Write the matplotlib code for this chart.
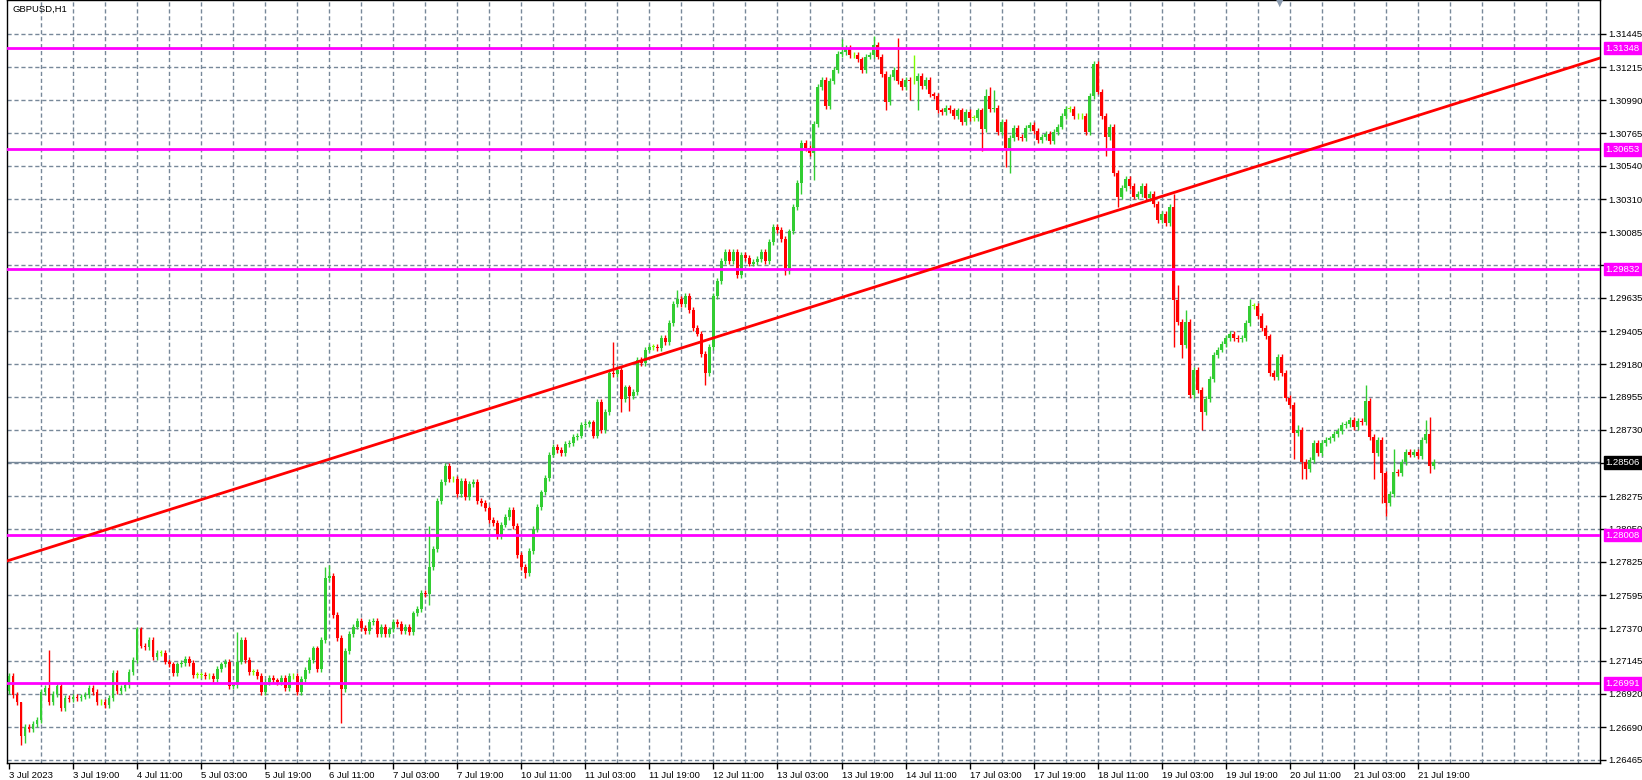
import matplotlib
matplotlib.use("Agg")
import matplotlib.pyplot as plt
import numpy as np

plt.rcParams['font.family'] = ['Liberation Sans', 'DejaVu Sans']

symbol = "GBPUSD,H1"
first_open = 1.2694
closes = [
1.2704,1.2691,1.2686,1.2663,1.2669,1.2668,1.2671,1.2674,1.2693,1.2696,1.2686,1.2692,1.2697,1.2682,1.2689,1.2688,1.2690,1.2689,1.2690,1.2691,1.2696,1.2693,1.2686,1.2686,
1.2684,1.2689,1.2706,1.2694,1.2696,1.2698,1.2707,1.2715,1.2736,1.2725,1.2724,1.2729,1.2717,1.2720,1.2720,1.2714,1.2712,1.2706,1.2712,1.2713,1.2716,1.2713,1.2705,1.2705,
1.2705,1.2704,1.2704,1.2702,1.2709,1.2712,1.2714,1.2697,1.2698,1.2714,1.2729,1.2715,1.2707,1.2707,1.2704,1.2693,1.2700,1.2703,1.2701,1.2700,1.2703,1.2696,1.2704,1.2704,
1.2693,1.2702,1.2708,1.2715,1.2723,1.2709,1.2729,1.2771,1.2773,1.2746,1.2730,1.2695,1.2721,1.2733,1.2738,1.2742,1.2737,1.2735,1.2741,1.2742,1.2733,1.2738,1.2733,1.2736,
1.2741,1.2740,1.2735,1.2738,1.2734,1.2747,1.2750,1.2761,1.2760,1.2779,1.2791,1.2824,1.2837,1.2848,1.2839,1.2839,1.2829,1.2838,1.2827,1.2836,1.2837,1.2824,1.2823,1.2819,
1.2811,1.2809,1.2800,1.2808,1.2813,1.2818,1.2807,1.2787,1.2779,1.2775,1.2790,1.2805,1.2820,1.2830,1.2840,1.2856,1.2861,1.2859,1.2857,1.2863,1.2864,1.2868,1.2869,1.2876,
1.2877,1.2878,1.2869,1.2892,1.2873,1.2885,1.2912,1.2911,1.2914,1.2894,1.2902,1.2896,1.2899,1.2921,1.2919,1.2928,1.2930,1.2930,1.2929,1.2936,1.2933,1.2946,1.2959,1.2963,
1.2959,1.2965,1.2955,1.2943,1.2939,1.2925,1.2912,1.2930,1.2965,1.2975,1.2989,1.2995,1.2989,1.2995,1.2979,1.2993,1.2991,1.2987,1.2988,1.2990,1.2995,1.2989,1.3002,1.3012,
1.3010,1.3004,1.2982,1.3009,1.3026,1.3042,1.3070,1.3066,1.3063,1.3083,1.3108,1.3113,1.3095,1.3112,1.3120,1.3131,1.3132,1.3135,1.3130,1.3130,1.3127,1.3120,1.3129,1.3130,
1.3137,1.3129,1.3117,1.3098,1.3115,1.3120,1.3112,1.3108,1.3113,1.3112,1.3112,1.3116,1.3109,1.3113,1.3103,1.3102,1.3092,1.3091,1.3094,1.3092,1.3088,1.3092,1.3084,1.3091,
1.3087,1.3087,1.3092,1.3079,1.3102,1.3093,1.3094,1.3077,1.3084,1.3066,1.3073,1.3080,1.3074,1.3073,1.3080,1.3082,1.3078,1.3072,1.3074,1.3076,1.3071,1.3077,1.3081,1.3088,
1.3093,1.3093,1.3088,1.3088,1.3088,1.3077,1.3102,1.3124,1.3105,1.3088,1.3074,1.3081,1.3049,1.3033,1.3039,1.3045,1.3040,1.3033,1.3035,1.3040,1.3032,1.3035,1.3028,1.3017,
1.3021,1.3015,1.3026,1.2962,1.2947,1.2931,1.2947,1.2897,1.2914,1.2900,1.2885,1.2894,1.2908,1.2924,1.2928,1.2932,1.2936,1.2939,1.2936,1.2935,1.2936,1.2946,1.2958,1.2958,
1.2951,1.2943,1.2937,1.2912,1.2909,1.2923,1.2912,1.2895,1.2890,1.2871,1.2873,1.2851,1.2846,1.2852,1.2864,1.2857,1.2864,1.2866,1.2867,1.2870,1.2872,1.2876,1.2877,1.2880,
1.2875,1.2879,1.2878,1.2893,1.2868,1.2857,1.2866,1.2843,1.2823,1.2829,1.2844,1.2843,1.2851,1.2858,1.2856,1.2858,1.2855,1.2866,1.2870,1.2848,1.2851]

high_over = {3:1.2666,10:1.2722,32:1.2738,57:1.2734,79:1.2779,80:1.2780,105:1.2807,109:1.2850,
             151:1.2933,167:1.2969,208:1.3141,216:1.3143,222:1.3142,226:1.3130,244:1.3107,245:1.3108,
             246:1.3106,271:1.3126,291:1.3035,292:1.2972,294:1.2955,310:1.2963,322:1.2876,339:1.2904,
             346:1.2860,354:1.2880,355:1.2882}
low_over = {3:1.2657,4:1.2658,83:1.2672,105:1.2753,129:1.2771,153:1.2885,155:1.2886,174:1.2904,
            194:1.2979,198:1.3035,201:1.3044,219:1.3092,225:1.3099,227:1.3092,243:1.3064,249:1.3053,
            250:1.3049,274:1.3061,277:1.3026,291:1.2930,293:1.2922,298:1.2873,321:1.2853,323:1.2839,
            324:1.2839,341:1.2839,343:1.2823,344:1.2814,355:1.2843}

hlines = [1.31348, 1.30653, 1.29832, 1.28008, 1.26991]
current = 1.28506
trend_x = [-0.5, 397.5]
trend_y = [1.2783, 1.3128]
price_ticks = [1.31445,1.31215,1.30990,1.30765,1.30540,1.30310,1.30085,1.29860,1.29635,1.29405,
               1.29180,1.28955,1.28730,1.28500,1.28275,1.28050,1.27825,1.27595,1.27370,1.27145,
               1.26920,1.26690,1.26465]
time_labels = ["3 Jul 2023","3 Jul 19:00","4 Jul 11:00","5 Jul 03:00","5 Jul 19:00","6 Jul 11:00",
               "7 Jul 03:00","7 Jul 19:00","10 Jul 11:00","11 Jul 03:00","11 Jul 19:00","12 Jul 11:00",
               "13 Jul 03:00","13 Jul 19:00","14 Jul 11:00","17 Jul 03:00","17 Jul 19:00","18 Jul 11:00",
               "19 Jul 03:00","19 Jul 19:00","20 Jul 11:00","21 Jul 03:00","21 Jul 19:00"]

W, H = 1642, 780
FS = 6.8
fig = plt.figure(figsize=(W/100, H/100), dpi=100)
ax = fig.add_axes([7/W, (H-763)/H, (1600-7)/W, 763/H])
ymin, ymax = 1.26444, 1.31678
ax.set_xlim(-0.5, 397.5)
ax.set_ylim(ymin, ymax)

c = np.array(closes)
o = np.concatenate([[first_open], c[:-1]])
n = len(c)
idx = np.arange(n)
hi = np.maximum(o, c) + 0.0002
lo = np.minimum(o, c) - 0.0002
for k, v in high_over.items():
    hi[k] = max(v, max(o[k], c[k]))
for k, v in low_over.items():
    lo[k] = min(v, min(o[k], c[k]))
col = np.where(c > o, '#32CD32', np.where(c < o, '#FF0000', '#7CFC00'))

for p in price_ticks:
    ax.axhline(p, color='#778899', lw=1, ls=(0, (3, 2)), zorder=0)
for g in range(8, 398, 8):
    ax.axvline(g, color='#778899', lw=1, ls=(0, (3, 2)), zorder=0)

ax.vlines(idx, lo, hi, colors=col, lw=1, zorder=2)
body = np.maximum(np.abs(c - o), 0.00004)
ax.bar(idx, body, bottom=np.minimum(o, c), width=0.7, color=col, lw=0, zorder=3)

for h in hlines:
    ax.axhline(h, color='#FF00FF', lw=2, zorder=4)
ax.axhline(current, color='#778899', lw=1, zorder=1)
ax.plot(trend_x, trend_y, color='#FF0000', lw=2, zorder=5)

ax.yaxis.tick_right()
ax.set_yticks(price_ticks)
ax.set_yticklabels([f"{p:.5f}" for p in price_ticks], fontsize=FS)
ax.tick_params(axis='y', length=4, width=1, pad=2, colors='black')
ax.set_xticks(range(0, 16*len(time_labels), 16))
ax.set_xticklabels(time_labels, fontsize=FS, ha='left')
ax.tick_params(axis='x', length=4, width=1, pad=2)
for s in ax.spines.values():
    s.set_color('black')
    s.set_linewidth(1)

def tag(price, bg):
    ax.text(1.0035, price, f"{price:.5f}", transform=ax.get_yaxis_transform(), fontsize=FS,
            color='white', va='center', ha='left',
            bbox=dict(boxstyle='square,pad=0.2', fc=bg, ec=bg), zorder=10, clip_on=False)
for h in hlines:
    tag(h, '#FF00FF')
tag(current, 'black')

fig.text(12/W, 1-9/H, symbol, fontsize=FS, va='center', ha='left')
fig.text(1280/W, 1-3/H, u'\u25bc', fontsize=7, color='#8a9aae', ha='center', va='center',
         family='DejaVu Sans')

fig.savefig("out.png", dpi=100)
